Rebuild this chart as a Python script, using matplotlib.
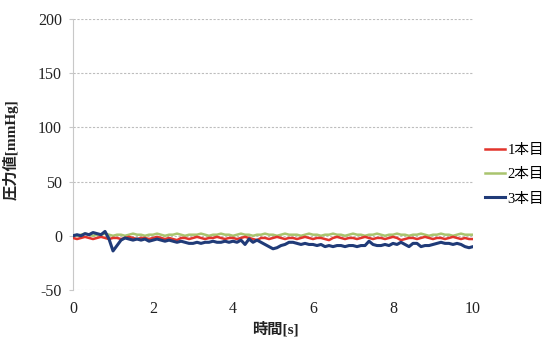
import numpy as np
from matplotlib import pyplot as plt

# time axis [s], one sample every 0.1 s
t = np.round(np.arange(0, 10.01, 0.1), 1)

# 1本目 (red)
p1 = [-2, -3, -2, -1, -2, -3, -2, -1, -2, -3, -2, -2, -3, -2, -1, -2, -3, -2, -2, -3,
      -2, -1, -2, -3, -2, -3, -4, -2, -2, -3, -2, -1, -2, -3, -2, -2, -1, -2, -3, -2,
      -2, -3, -2, -1, -2, -3, -4, -2, -2, -3, -2, -1, -2, -3, -2, -2, -3, -2, -1, -2,
      -3, -2, -2, -3, -4, -2, -1, -2, -3, -2, -2, -3, -2, -1, -2, -3, -2, -2, -3, -2,
      -1, -2, -4, -3, -2, -2, -3, -2, -1, -2, -3, -2, -2, -3, -2, -1, -2, -3, -2, -3, -3]

# 2本目 (green)
p2 = [1, 0, 1, 2, 1, 0, 1, 1, 2, 1, 0, 1, 1, 0, 1, 2, 1, 1, 0, 1,
      1, 2, 1, 0, 1, 1, 2, 1, 0, 1, 1, 1, 2, 1, 0, 1, 1, 2, 1, 1,
      0, 1, 2, 1, 1, 0, 1, 1, 2, 1, 1, 0, 1, 2, 1, 1, 1, 0, 1, 2,
      1, 1, 0, 1, 1, 2, 1, 1, 0, 1, 2, 1, 1, 0, 1, 1, 2, 1, 0, 1,
      1, 2, 1, 1, 0, 1, 1, 2, 1, 0, 1, 1, 2, 1, 1, 0, 1, 2, 1, 1, 1]

# 3本目 (blue)
p3 = [0, 1, 0, 2, 1, 3, 2, 1, 4, -3, -14, -9, -4, -2, -3, -4, -3, -4, -3, -5,
      -4, -3, -4, -5, -4, -5, -6, -5, -6, -7, -7, -6, -7, -6, -6, -5, -6, -6, -5, -6,
      -5, -6, -4, -8, -3, -6, -4, -6, -8, -10, -12, -11, -9, -8, -6, -6, -7, -8, -7, -8,
      -8, -9, -8, -10, -9, -10, -9, -9, -10, -9, -9, -10, -9, -9, -5, -8, -9, -9, -8, -9,
      -7, -8, -6, -8, -10, -7, -7, -10, -9, -9, -8, -7, -6, -7, -7, -8, -7, -8, -10, -11, -10]

labels = ["1本目", "2本目", "3本目"]
colors = ["#e2342c", "#a9c46e", "#203b78"]

yticks = [-50, 0, 50, 100, 150, 200]
xticks = [0, 2, 4, 6, 8, 10]

fonts = ["Liberation Serif", "Noto Sans CJK JP"]


def main():
    plt.rcParams["font.family"] = fonts
    plt.rcParams["axes.unicode_minus"] = False
    fig = plt.figure(figsize=(5.54, 3.41), dpi=100)
    ax = fig.add_axes([0.1318, 0.1496, 0.722, 0.7947])

    for y in yticks:
        ax.axhline(y, color="#bdbdbd", lw=0.8, ls=(0, (2, 1.5)), zorder=0)

    ax.plot(t, p1, color=colors[0], lw=1.8, label=labels[0], zorder=3)
    ax.plot(t, p2, color=colors[1], lw=1.8, label=labels[1], zorder=2)
    ax.plot(t, p3, color=colors[2], lw=2.2, label=labels[2], zorder=4)

    ax.set_xlim(0, 10)
    ax.set_ylim(-50, 200)
    ax.set_xticks(xticks)
    ax.set_yticks(yticks)

    for s in ["top", "right", "bottom"]:
        ax.spines[s].set_visible(False)
    ax.spines["left"].set_color("#c8c8c8")
    ax.spines["left"].set_linewidth(0.8)

    ax.tick_params(axis="x", length=0, pad=8, labelsize=11.5, colors="#222222")
    ax.tick_params(axis="y", length=3, width=0.8, color="#c8c8c8", pad=5,
                   labelsize=11.5, labelcolor="#222222")

    ax.set_ylabel("圧力値[mmHg]", fontsize=11, fontweight="bold", color="#222222")
    ax.yaxis.set_label_coords(-0.137, 0.517)
    ax.set_xlabel("時間[s]", fontsize=11, fontweight="bold", color="#222222")
    ax.xaxis.set_label_coords(0.505, -0.115)

    ax.legend(loc="center left", bbox_to_anchor=(1.03, 0.425), frameon=False,
              borderpad=0, borderaxespad=0, handlelength=1.4, handletextpad=0.15,
              labelspacing=0.75, prop={"family": fonts, "size": 10.5})

    plt.savefig("out.png", dpi=100)


if __name__ == "__main__":
    main()
